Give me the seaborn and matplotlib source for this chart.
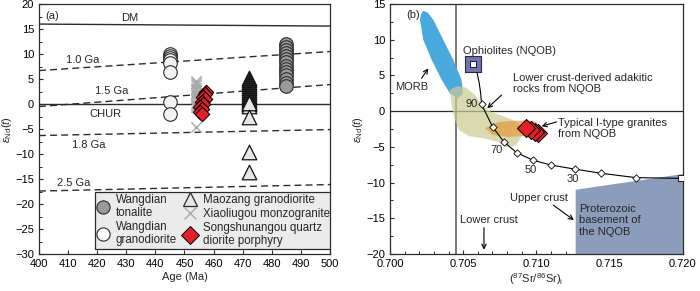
import numpy as np
import pandas as pd
import seaborn as sns
import matplotlib
matplotlib.use('Agg')
import matplotlib.pyplot as plt
from matplotlib.lines import Line2D
from matplotlib.patches import Rectangle
from matplotlib.ticker import MultipleLocator, FormatStrFormatter

# ---------------- panel (a) data ----------------
ton_age = 485
ton_eps = [12.0, 11.4, 10.8, 10.2, 9.6, 9.0, 8.4, 7.6, 7.0, 6.5, 5.8, 5.0, 4.2, 3.6]
gd_age = 445
gd_eps = [10.0, 9.6, 9.2, 8.8, 8.2, 6.5, 0.5, -2.0]
mz_age = 472
mz_eps = [5.2, 4.8, 4.4, 4.0, 3.6, 3.2, 2.8, 2.4, 2.0, 1.6, 1.2, 0.8, 0.4, 0.0, -0.3,
          0.3, -2.5, -9.5, -13.5]
xl_age = 454
xl_eps = [4.6, 4.2, 3.8, 3.3, 2.8, 2.3, 1.8, 1.3, 0.8, 0.3, -0.2, -0.6, -4.6]
ss_age = [457.5, 457.0, 456.5, 457.0, 456.0, 456.5, 455.5, 456.0, 455.5, 456.0]
ss_eps = [2.5, 2.0, 1.5, 1.0, 0.5, 0.0, -0.5, -1.0, -1.5, -2.0]

# evolution lines (value at 400 Ma and 500 Ma)
line_age = [400, 500]
dm_line = [16.0, 15.6]
chur_line = [0.0, 0.0]
ga10_line = [6.7, 10.5]
ga15_line = [-0.5, 3.9]
ga18_line = [-6.3, -5.1]
ga25_line = [-17.4, -16.1]

# ---------------- panel (b) data ----------------
morb_sr = [0.70228, 0.70212, 0.70205, 0.70228, 0.70285, 0.70353, 0.70410, 0.70466,
           0.70500, 0.70489, 0.70432, 0.70364, 0.70296, 0.70258]
morb_nd = [14.06, 13.6, 12.8, 10.0, 7.2, 4.4, 2.5, 1.8,
           2.5, 4.4, 7.2, 10.0, 12.8, 13.8]

adk_sr = [0.7041, 0.7046, 0.7052, 0.7057, 0.7062, 0.7068, 0.7076, 0.7085, 0.7090,
          0.7090, 0.7086, 0.7080, 0.7074, 0.7064, 0.7054, 0.7047, 0.7044, 0.7042]
adk_nd = [3.0, 3.5, 3.3, 2.5, 1.2, 0.0, -0.6, -1.3, -2.2,
          -3.5, -4.8, -5.0, -4.3, -3.8, -3.5, -2.6, -1.0, 1.0]

ityp_sr = [0.70649, 0.70700, 0.70750, 0.70850, 0.70950, 0.71000, 0.71000, 0.70900, 0.70800, 0.70700]
ityp_nd = [-2.4, -1.8, -1.5, -1.35, -1.3, -1.5, -3.0, -3.5, -3.6, -3.3]

base_sr = [0.71268, 0.71268, 0.72000, 0.72000]
base_nd = [-20.0, -11.0, -8.8, -20.0]

mix_sr = [0.70567, 0.70596, 0.70610, 0.70620, 0.70626, 0.70701, 0.70778, 0.70865, 0.70974,
          0.71101, 0.71260, 0.71444, 0.71679, 0.71986]
mix_nd = [6.6, 5.3, 3.9, 2.4, 0.95, -2.2, -4.3, -5.8, -6.85, -7.55, -8.1, -8.7, -9.3, -9.4]
tick_sr = [0.70626, 0.70701, 0.70778, 0.70865, 0.70974, 0.71101, 0.71260, 0.71444, 0.71679]
tick_nd = [0.95, -2.2, -4.3, -5.8, -6.85, -7.55, -8.1, -8.7, -9.3]

oph_sr = [0.70567]
oph_nd = [6.6]
uc_sr = [0.71986]
uc_nd = [-9.4]

samp_sr = [0.71010, 0.70990, 0.70960, 0.70930]
samp_nd = [-3.1, -2.9, -2.7, -2.4]

# ---------------- style ----------------
sns.set_style('ticks')
plt.rcParams['font.family'] = ['Liberation Sans', 'DejaVu Sans']
plt.rcParams['mathtext.fontset'] = 'custom'
plt.rcParams['mathtext.rm'] = 'Liberation Sans'
plt.rcParams['mathtext.it'] = 'Liberation Sans:italic'
plt.rcParams['font.size'] = 8
fs = 8
ink = '#2b2b2b'

fig = plt.figure(figsize=(7, 2.91), dpi=100)
ax1 = fig.add_axes([0.0557, 0.127, 0.4157, 0.859])
ax2 = fig.add_axes([0.557, 0.127, 0.4186, 0.859])

for ax in (ax1, ax2):
    for s in ax.spines.values():
        s.set_color(ink)
        s.set_linewidth(0.9)
    ax.tick_params(direction='in', length=3, width=0.8, colors=ink, labelsize=fs, labelcolor='black')
    ax.tick_params(which='minor', direction='in', length=2, width=0.7, colors=ink)

# ---------------- panel (a) ----------------
ax1.plot(line_age, dm_line, color=ink, lw=1.0)
ax1.plot(line_age, chur_line, color=ink, lw=1.0)
for ln in (ga10_line, ga15_line, ga18_line, ga25_line):
    ax1.plot(line_age, ln, color=ink, lw=1.0, ls=(0, (5, 3)))

sns.scatterplot(x=[gd_age] * len(gd_eps), y=gd_eps, marker='o', s=95, color='#f2f2f2',
                edgecolor=ink, linewidth=0.8, ax=ax1, zorder=3)
sns.scatterplot(x=[ton_age] * len(ton_eps), y=ton_eps, marker='o', s=95, color='#9a9a9a',
                edgecolor=ink, linewidth=0.8, ax=ax1, zorder=3)
sns.scatterplot(x=[mz_age] * len(mz_eps), y=mz_eps, marker='^', s=110, color='#e6e6e6',
                edgecolor='#111111', linewidth=0.9, ax=ax1, zorder=3)
sns.scatterplot(x=[xl_age] * len(xl_eps), y=xl_eps, marker='x', s=55, color='#a8a8a8',
                linewidth=1.0, ax=ax1, zorder=3)
sns.scatterplot(x=ss_age, y=ss_eps, marker='D', s=55, color='#e3202a',
                edgecolor='black', linewidth=0.7, ax=ax1, zorder=4)

ax1.text(431, 16.3, 'DM', ha='center', va='bottom', fontsize=fs)
ax1.text(415, 8.8, '1.0 Ga', ha='center', va='center', fontsize=fs)
ax1.text(425, 2.7, '1.5 Ga', ha='center', va='center', fontsize=fs)
ax1.text(423, -1.9, 'CHUR', ha='center', va='center', fontsize=fs)
ax1.text(417, -8.2, '1.8 Ga', ha='center', va='center', fontsize=fs)
ax1.text(412, -15.7, '2.5 Ga', ha='center', va='center', fontsize=fs)
ax1.text(402, 17.6, '(a)', ha='left', va='center', fontsize=fs)

ax1.set_xlim(400, 500)
ax1.set_ylim(-30, 20)
ax1.xaxis.set_major_locator(MultipleLocator(10))
ax1.yaxis.set_major_locator(MultipleLocator(5))
ax1.yaxis.set_minor_locator(MultipleLocator(2.5))
ax1.set_xlabel('Age (Ma)', fontsize=fs, labelpad=2)
ax1.set_ylabel(r'$\varepsilon_{\mathrm{Nd}}(t)$', fontsize=fs, labelpad=1)

# legend: grey box with two columns
ax1.add_patch(Rectangle((0.192, 0.02), 0.808, 0.228, transform=ax1.transAxes,
                        facecolor='#ebebeb', edgecolor=ink, lw=0.9, zorder=5))
h_ton = Line2D([], [], ls='none', marker='o', ms=9.5, mfc='#9a9a9a', mec=ink, mew=0.8)
h_gd = Line2D([], [], ls='none', marker='o', ms=9.5, mfc='white', mec=ink, mew=0.8)
h_mz = Line2D([], [], ls='none', marker='^', ms=10, mfc='#e6e6e6', mec=ink, mew=0.9)
h_xl = Line2D([], [], ls='none', marker='x', ms=9, mec='#a8a8a8', mew=1.0)
h_ss = Line2D([], [], ls='none', marker='D', ms=9, mfc='#e3202a', mec='black', mew=0.7)
leg_kw = dict(loc='upper left', borderaxespad=0, fontsize=8.3, frameon=False,
              handlelength=1.05, handletextpad=0.6, labelspacing=0.2, borderpad=0.15)
leg1 = ax1.legend([h_ton, h_gd], ['Wangdian\ntonalite', 'Wangdian\ngranodiorite'],
                  bbox_to_anchor=(0.192, 0.248), **leg_kw)
leg1.set_zorder(6)
ax1.add_artist(leg1)
leg2 = ax1.legend([h_mz, h_xl, h_ss],
                  ['Maozang granodiorite', 'Xiaoliugou monzogranite',
                   'Songshunangou quartz\ndiorite porphyry'],
                  bbox_to_anchor=(0.4925, 0.248), **leg_kw)
leg2.set_zorder(6)
for t in leg1.get_texts() + leg2.get_texts():
    t.set_linespacing(1.12)

# ---------------- panel (b) ----------------
ax2.axvline(0.7045, color='#6e6e6e', lw=1.3, zorder=1)
ax2.axhline(0, color=ink, lw=0.9, zorder=1)
ax2.fill(morb_sr, morb_nd, color='#4aa9dc', lw=0, zorder=2)
ax2.fill(adk_sr, adk_nd, color='#cbcb94', alpha=0.72, lw=0, zorder=3)
ax2.fill(ityp_sr, ityp_nd, color='#e59a3c', alpha=0.7, lw=0, zorder=4)
ax2.fill(base_sr, base_nd, color='#8b9dba', lw=0, zorder=2)

mix = pd.DataFrame({'sr': mix_sr, 'nd': mix_nd})
sns.lineplot(data=mix, x='sr', y='nd', sort=False, estimator=None, color='black', lw=0.8, ax=ax2, zorder=5)
sns.scatterplot(x=tick_sr, y=tick_nd, marker='D', s=14, color='white', edgecolor='black',
                linewidth=0.6, ax=ax2, zorder=6)
sns.scatterplot(x=oph_sr, y=oph_nd, marker='s', s=120, color='#7274b6', edgecolor=ink,
                linewidth=0.8, ax=ax2, zorder=5)
sns.scatterplot(x=oph_sr + uc_sr, y=oph_nd + uc_nd, marker='s', s=14, color='white', edgecolor='black',
                linewidth=0.6, ax=ax2, zorder=6)
sns.scatterplot(x=samp_sr, y=samp_nd, marker='D', s=85, color='#e3202a', edgecolor='black',
                linewidth=0.7, ax=ax2, zorder=7)

ax2.text(0.7011, 13.5, '(b)', ha='left', va='center', fontsize=fs)
ax2.text(0.7050, 8.4, 'Ophiolites (NQOB)', ha='left', va='center', fontsize=fs)
ax2.text(0.7015, 3.4, 'MORB', ha='center', va='center', fontsize=fs)
ax2.text(0.7084, 3.9, 'Lower crust-derived adakitic\nrocks from NQOB', ha='left', va='center',
         fontsize=fs, linespacing=1.1)
ax2.text(0.7115, -2.4, 'Typical I-type granites\nfrom NQOB', ha='left', va='center',
         fontsize=fs, linespacing=1.1)
ax2.text(0.7082, -12.2, 'Upper crust', ha='left', va='center', fontsize=fs)
ax2.text(0.71293, -15.3, 'Proterozoic\nbasement of\nthe NQOB', ha='left', va='center',
         fontsize=fs, linespacing=1.15, zorder=8)
ax2.text(0.70676, -15.3, 'Lower crust', ha='center', va='center', fontsize=fs)
ax2.text(0.7060, 0.95, '90', ha='right', va='center', fontsize=fs)
ax2.text(0.7073, -5.5, '70', ha='center', va='center', fontsize=fs)
ax2.text(0.7096, -8.3, '50', ha='center', va='center', fontsize=fs)
ax2.text(0.7125, -9.5, '30', ha='center', va='center', fontsize=fs)

arw = dict(arrowstyle='->', color='black', lw=0.8, shrinkA=0, shrinkB=0)
ax2.annotate('', xy=(0.70262, 6.0), xytext=(0.70216, 4.6), arrowprops=arw)
ax2.annotate('', xy=(0.70664, 0.4), xytext=(0.70762, 2.25), arrowprops=arw)
ax2.annotate('', xy=(0.71035, -2.1), xytext=(0.71138, -1.5), arrowprops=arw)
ax2.annotate('', xy=(0.71256, -15.25), xytext=(0.71115, -13.15), arrowprops=arw)
ax2.annotate('', xy=(0.70642, -19.4), xytext=(0.70642, -16.3), arrowprops=arw)

ax2.set_xlim(0.700, 0.720)
ax2.set_ylim(-20, 15)
ax2.xaxis.set_major_locator(MultipleLocator(0.005))
ax2.xaxis.set_minor_locator(MultipleLocator(0.001))
ax2.xaxis.set_major_formatter(FormatStrFormatter('%.3f'))
ax2.yaxis.set_major_locator(MultipleLocator(5))
ax2.yaxis.set_minor_locator(MultipleLocator(2.5))
ax2.set_xlabel(r'$(^{87}\mathrm{Sr}/^{86}\mathrm{Sr})_{\mathrm{i}}$', fontsize=fs, labelpad=2)
ax2.set_ylabel(r'$\varepsilon_{\mathrm{Nd}}(t)$', fontsize=fs, labelpad=1)

fig.savefig('out.png', dpi=100)
